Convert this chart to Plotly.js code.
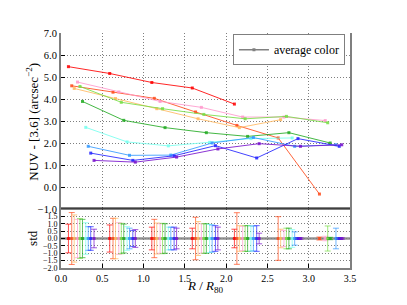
<!DOCTYPE html>
<html>
<head>
<meta charset="utf-8">
<script src="https://cdn.plot.ly/plotly-3.0.1.min.js"></script>
<style>html,body{margin:0;padding:0;background:#fff;}#chart{width:407px;height:305px;}</style>
</head>
<body>
<div id="chart"></div>
<script>
// ---- data ----
const seriesNames = ["red","orangered","peach","pink","lightgreen","green","cyan","lightblue","blue","purple"];
const seriesColors = ["#ff0000","#ff4a1a","#ffb860","#ff99cc","#77dd44","#22aa22","#77ffee","#3399ff","#2222ff","#7711cc"];

const xRed = [0.09,0.59,1.10,1.59,2.10];
const yRed = [5.47,5.16,4.75,4.50,3.77];
const sRed = [0.97,0.92,0.77,0.70,0.63];

const xOrangeRed = [0.13,0.63,1.13,1.63,2.13,2.63,3.13];
const yOrangeRed = [4.60,4.31,4.03,3.41,2.80,2.23,-0.32];
const sOrangeRed = [1.76,1.37,1.30,1.44,1.75,1.48,0.10];

const xPeach = [0.16,0.66,1.16,1.66,2.16,2.66];
const yPeach = [4.48,4.02,3.56,3.10,2.70,3.06];
const sPeach = [1.60,1.37,1.05,1.15,0.87,0.63];

const xPink = [0.20,0.70,1.20,1.70,2.20,2.70,3.20];
const yPink = [4.77,4.32,3.89,3.62,3.18,3.18,3.02];
const sPink = [1.30,1.07,1.00,1.00,0.83,0.55,0.15];

const xLightGreen = [0.23,0.73,1.23,1.73,2.23,2.73,3.23];
const yLightGreen = [4.57,3.85,3.56,3.30,3.10,3.21,2.92];
const sLightGreen = [1.35,1.03,1.03,1.00,0.87,0.70,0.85];

const xGreen = [0.26,0.76,1.26,1.76,2.26,2.76,3.26];
const yGreen = [3.89,3.03,2.70,2.47,2.30,2.47,2.00];
const sGreen = [1.30,0.98,1.00,1.00,0.87,0.70,0.08];

const xCyan = [0.30,0.80,1.30,1.80,2.30,2.80];
const yCyan = [2.71,2.05,1.87,2.03,2.20,2.23];
const sCyan = [1.07,0.80,0.77,0.95,0.85,0.60];

const xLightBlue = [0.33,0.83,1.33,1.83,2.33,2.83,3.33];
const yLightBlue = [1.85,1.44,1.45,2.00,2.25,1.85,1.92];
const sLightBlue = [0.80,0.70,0.77,0.92,0.85,0.45,0.70];

const xBlue = [0.36,0.87,1.37,1.87,2.37,2.87,3.37];
const yBlue = [1.54,1.21,1.42,1.88,1.32,2.20,1.85];
const sBlue = [0.80,0.55,0.77,0.87,0.87,0.05,0.05];

const xPurple = [0.40,0.90,1.40,1.90,2.40,2.90,3.40];
const yPurple = [1.21,1.13,1.36,1.73,1.97,1.85,1.92];
const sPurple = [0.63,0.60,0.70,0.77,0.36,0.05,0.05];

const xTickVals = [0,0.5,1,1.5,2,2.5,3,3.5];
const xTickText = ["0.0","0.5","1.0","1.5","2.0","2.5","3.0","3.5"];
const yMainTickVals = [-1,0,1,2,3,4,5,6,7];
const yMainTickText = ["\u22121.0","0.0","1.0","2.0","3.0","4.0","5.0","6.0","7.0"];
const yStdTickVals = [-2,-1.5,-1,-0.5,0,0.5,1,1.5];
const yStdTickText = ["\u22122.0","\u22121.5","\u22121.0","\u22120.5","0.0","0.5","1.0","1.5"];
const legendLabel = "average color";
const xTitle = '<i>R</i> / <i>R</i><sub>80</sub>';
const yMainTitle = 'NUV - [3.6] (arcsec<sup>\u22122</sup>)';
const yStdTitle = 'std';

const allX = [xRed,xOrangeRed,xPeach,xPink,xLightGreen,xGreen,xCyan,xLightBlue,xBlue,xPurple];
const allY = [yRed,yOrangeRed,yPeach,yPink,yLightGreen,yGreen,yCyan,yLightBlue,yBlue,yPurple];
const allS = [sRed,sOrangeRed,sPeach,sPink,sLightGreen,sGreen,sCyan,sLightBlue,sBlue,sPurple];

function hexA(h, a){
  const r=parseInt(h.slice(1,3),16), g=parseInt(h.slice(3,5),16), b=parseInt(h.slice(5,7),16);
  return `rgba(${r},${g},${b},${a})`;
}

const traces = [];
// lower panel zero line (average)
traces.push({x:[0,3.5], y:[0,0], xaxis:'x', yaxis:'y', mode:'lines',
  line:{color:'rgba(128,128,128,0.85)', width:2.5}, showlegend:false, hoverinfo:'skip'});

for (let i=0;i<allX.length;i++){
  traces.push({
    x: allX[i], y: allY[i], xaxis:'x', yaxis:'y2', mode:'lines+markers',
    line:{color:hexA(seriesColors[i],0.85), width:1},
    marker:{color:hexA(seriesColors[i],0.85), size:3, symbol:'square'},
    showlegend:false, name: seriesNames[i]
  });
  traces.push({
    x: allX[i], y: allX[i].map(()=>0), xaxis:'x', yaxis:'y', mode:'markers',
    marker:{color:hexA(seriesColors[i],0.8), size:3, symbol:'square'},
    error_y:{type:'data', array: allS[i], visible:true, color:hexA(seriesColors[i],0.7), thickness:1, width:3},
    showlegend:false, name: seriesNames[i]
  });
}
// legend entry
traces.push({x:[null], y:[null], xaxis:'x', yaxis:'y2', mode:'lines+markers', name: legendLabel,
  line:{color:'#808080', width:1.5}, marker:{color:'#808080', size:3, symbol:'square'}, showlegend:true});

const font = {family:'"Liberation Serif", "DejaVu Serif", serif', color:'#000'};
const axisBase = {showline:true, linecolor:'#7f7f7f', linewidth:2, mirror:true,
  ticks:'inside', ticklen:4, tickcolor:'#000', tickwidth:1,
  gridcolor:'rgba(0,0,0,0.5)', griddash:'1px,2px', gridwidth:1, zeroline:false};

const layout = {
  width:407, height:305,
  margin:{l:61, r:57, t:33, b:37},
  paper_bgcolor:'#fff', plot_bgcolor:'#fff',
  font: Object.assign({size:10.5}, font),
  showlegend:true,
  legend:{x:0.595, y:0.995, xanchor:'left', yanchor:'top', bgcolor:'#fff',
    bordercolor:'#7f7f7f', borderwidth:1, font:Object.assign({size:12}, font),
    itemwidth:30, tracegroupgap:0},
  xaxis: Object.assign({}, axisBase, {range:[0,3.5], domain:[0,1], anchor:'y',
    tickvals:xTickVals, ticktext:xTickText, tickfont:Object.assign({size:10}, font), showgrid:true}),
  xaxis2: Object.assign({}, axisBase, {range:[0,3.5], domain:[0,1], anchor:'y2',
    tickvals:xTickVals, showticklabels:false, showgrid:true, matches:'x'}),
  yaxis: Object.assign({}, axisBase, {range:[-2,2], domain:[0,0.251], anchor:'x',
    tickvals:yStdTickVals, ticktext:yStdTickText, tickfont:Object.assign({size:8}, font)}),
  yaxis2: Object.assign({}, axisBase, {range:[-1,7], domain:[0.251,1], anchor:'x2',
    tickvals:yMainTickVals, ticktext:yMainTickText, tickfont:Object.assign({size:10.5}, font)}),
  shapes:[{type:'line', xref:'paper', yref:'paper', x0:0, x1:1, y0:0.251, y1:0.251,
    line:{color:'#000', width:1}}],
  annotations:[
    {text:xTitle, xref:'paper', yref:'paper', x:0.5, y:-0.08, xanchor:'center', yanchor:'middle',
      showarrow:false, font:Object.assign({size:13}, font)},
    {text:yMainTitle, xref:'paper', yref:'paper', x:-0.1, y:0.623, xanchor:'center', yanchor:'middle',
      textangle:-90, showarrow:false, font:Object.assign({size:13}, font)},
    {text:yStdTitle, xref:'paper', yref:'paper', x:-0.097, y:0.128, xanchor:'center', yanchor:'middle',
      textangle:-90, showarrow:false, font:Object.assign({size:13}, font)}
  ]
};

Plotly.newPlot('chart', traces, layout, {displayModeBar:false, staticPlot:true});
</script>
</body>
</html>
